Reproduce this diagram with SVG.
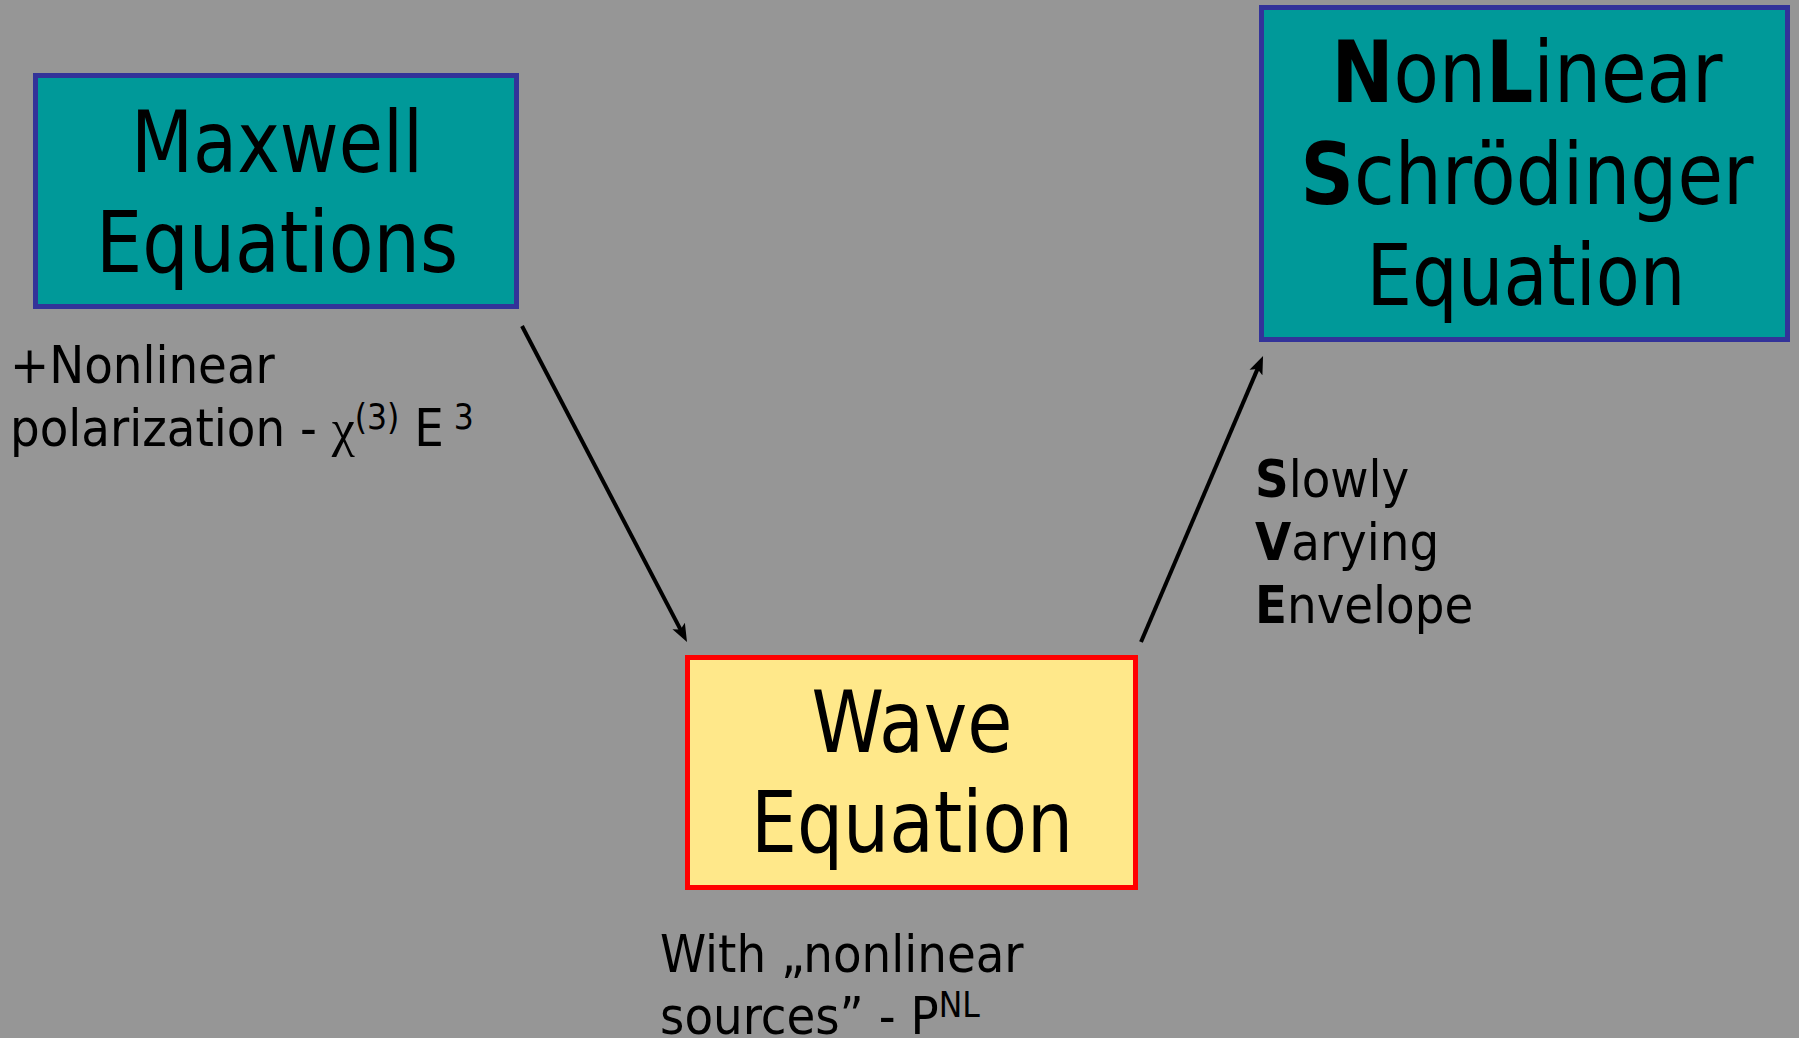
<svg xmlns="http://www.w3.org/2000/svg" width="1799" height="1038" viewBox="0 0 1799 1038">
<defs>
<style>
.bg{fill:#969696}
.teal{fill:#009999;stroke:#333399;stroke-width:5}
.wave{fill:#FFE88A;stroke:#FF0000;stroke-width:5}
.t{font-family:"DejaVu Sans Condensed","DejaVu Sans",sans-serif;fill:#000}
.big{font-size:86px;text-anchor:middle}
.lbl{font-size:52px}
.sup{font-size:35px}
.b{font-weight:bold}
.sym{font-family:"Liberation Serif","DejaVu Serif",serif}
.conn{stroke:#000;stroke-width:4;fill:none}
</style>
<marker id="ah" markerUnits="userSpaceOnUse" markerWidth="20" markerHeight="16" refX="10" refY="7" orient="auto" viewBox="0 0 20 14">
<path d="M0,0 L18,7 L0,14 L4,7 Z" fill="#000"/>
</marker>
</defs>
<rect class="bg" x="0" y="0" width="1799" height="1038"/>

<g id="connectors">
<line class="conn" x1="522" y1="326" x2="683.3" y2="634.9" marker-end="url(#ah)"/>
<line class="conn" x1="1141" y1="642" x2="1259.9" y2="363.4" marker-end="url(#ah)"/>
</g>

<g id="maxwell">
<rect class="teal" x="35.5" y="75.5" width="481" height="231"/>
<text class="t big" x="277" y="172" textLength="292" lengthAdjust="spacingAndGlyphs">Maxwell</text>
<text class="t big" x="277" y="272" textLength="362" lengthAdjust="spacingAndGlyphs">Equations</text>
</g>

<g id="nlse">
<rect class="teal" x="1261.5" y="7.5" width="526" height="332"/>
<text class="t big" x="1527" y="102" textLength="391" lengthAdjust="spacingAndGlyphs"><tspan class="b">N</tspan>on<tspan class="b">L</tspan>inear</text>
<text class="t big" x="1527" y="204" textLength="453" lengthAdjust="spacingAndGlyphs"><tspan class="b">S</tspan>chrödinger</text>
<text class="t big" x="1526" y="305" textLength="319" lengthAdjust="spacingAndGlyphs">Equation</text>
</g>

<g id="wave">
<rect class="wave" x="687.5" y="657.5" width="448" height="230"/>
<text class="t big" x="912" y="752" textLength="201" lengthAdjust="spacingAndGlyphs">Wave</text>
<text class="t big" x="912" y="852" textLength="322" lengthAdjust="spacingAndGlyphs">Equation</text>
</g>

<g id="label-polarization">
<text class="t lbl" x="10" y="383">+Nonlinear</text>
<text class="t lbl" x="10" y="446">polarization - <tspan class="sym">χ</tspan><tspan class="sup" dy="-17">(3)</tspan><tspan dy="17"> E</tspan><tspan class="sup" dy="-17"> 3</tspan></text>
</g>

<g id="label-sve">
<text class="t lbl" x="1255" y="497"><tspan class="b">S</tspan>lowly</text>
<text class="t lbl" x="1255" y="560"><tspan class="b">V</tspan>arying</text>
<text class="t lbl" x="1255" y="623"><tspan class="b">E</tspan>nvelope</text>
</g>

<g id="label-sources">
<text class="t lbl" x="660" y="972">With „nonlinear</text>
<text class="t lbl" x="660" y="1034">sources” - P<tspan class="sup" dy="-17">NL</tspan></text>
</g>
</svg>
